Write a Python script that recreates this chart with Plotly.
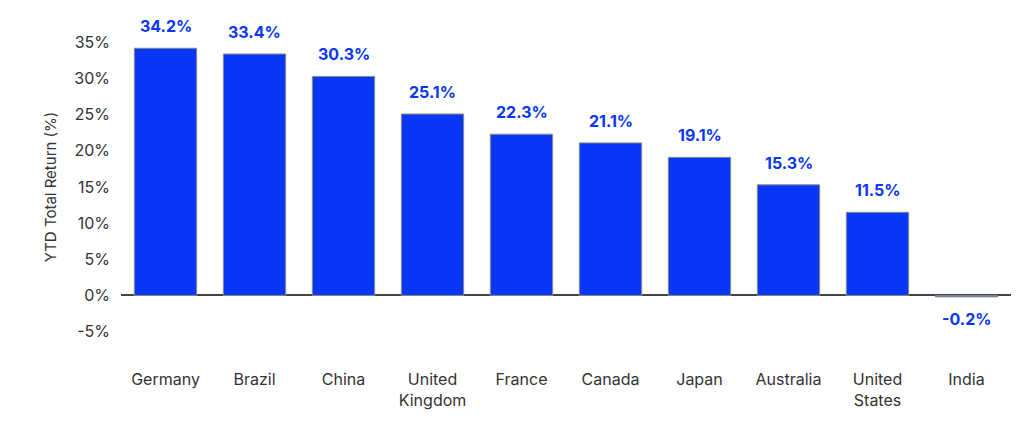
import plotly.graph_objects as go

countries = ["Germany", "Brazil", "China", "United<br>Kingdom", "France", "Canada",
             "Japan", "Australia", "United<br>States", "India"]
returns = [34.2, 33.4, 30.3, 25.1, 22.3, 21.1, 19.1, 15.3, 11.5, -0.2]
labels = [f"{v:.1f}%" for v in returns]
tick_vals = [-5, 0, 5, 10, 15, 20, 25, 30, 35]
tick_text = [f"{v}%" for v in tick_vals]

blue = "#0a36f5"
fig = go.Figure(go.Bar(
    x=countries, y=returns,
    marker=dict(color=blue, line=dict(color="#8a8a8a", width=1)),
))
for c, v, t in zip(countries, returns, labels):
    fig.add_annotation(x=c, y=v, text=t, showarrow=False,
                       yanchor="bottom" if v >= 0 else "top",
                       yshift=10 if v >= 0 else -10,
                       font=dict(color=blue, size=16, family="Inter", weight="bold"))
fig.update_layout(
    width=1024, height=424, margin=dict(l=113, r=21, t=20, b=86),
    plot_bgcolor="white", paper_bgcolor="white", bargap=0.3, showlegend=False,
    font=dict(family="Inter", size=16, color="#333333"),
    xaxis=dict(showgrid=False, showline=False, ticks="", tickfont=dict(size=16),
               ticklabelstandoff=22),
    yaxis=dict(range=[-7, 37], tickvals=tick_vals, ticktext=tick_text, showgrid=False,
               zeroline=True, zerolinecolor="#444444", zerolinewidth=1.5,
               title=dict(text="YTD Total Return (%)", font=dict(size=15), standoff=14),
               ticklabelstandoff=10),
)
fig.write_html("out.html")
